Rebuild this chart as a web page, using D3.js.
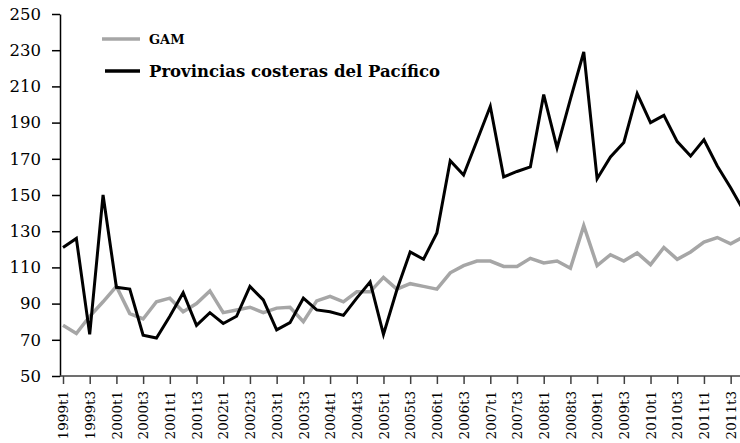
<!DOCTYPE html>
<html>
<head>
<meta charset="utf-8">
<script src="https://cdn.jsdelivr.net/npm/d3@7"></script>
<style>
  html, body { margin: 0; padding: 0; background: #fff; overflow: hidden; }
</style>
</head>
<body>
<div class="d3line"></div>
<script>
// quarters 1999t1 .. 2011t4
var years = d3.range(1999, 2012);
var quarters = [];
years.forEach(function(y) { [1, 2, 3, 4].forEach(function(q) { quarters.push(y + "t" + q); }); });

// only every second quarter gets a label
var tickLabels = quarters.filter(function(d, i) { return i % 2 === 0; });

var yTicks = [50, 70, 90, 110, 130, 150, 170, 190, 210, 230, 250];

var gam = [78, 73.5, 83, 91, 99.5, 84.5, 81.5, 91, 93, 85.5, 90, 97, 85, 86.5, 88, 85,
  87.5, 88, 80, 91.5, 94, 91, 96.5, 96.5, 104.5, 98, 101, 99.5, 98, 107, 111, 113.5,
  113.5, 110.5, 110.5, 115, 112.5, 113.5, 109.5, 133, 111, 117, 113.5, 118, 111.5, 121, 114.5, 118.5,
  124, 126.5, 123, 127];

var pacifico = [121, 126, 73, 150, 99, 98, 72.5, 71, 83, 96, 78, 85, 79, 83, 99.5, 92,
  75.5, 79.5, 93, 86.5, 85.5, 83.5, 93, 102, 73, 97.5, 118.5, 114.5, 129, 169, 161, 180,
  199, 160, 163, 165.5, 205.5, 176, 203, 229, 159, 171, 179, 206, 190, 194, 179.5, 171.5,
  180.5, 166, 154, 141];

var seriesNames = ["GAM", "Provincias costeras del Pacífico"];

var W = 740, H = 443;
var margin = {top: 14, right: 0, bottom: 67, left: 60};
var height = H - margin.top - margin.bottom;
var serif = "'DejaVu Serif', serif";

// x: point per quarter, last point just past the right edge
var xScale = d3.scalePoint()
    .domain(quarters)
    .range([63, 744]);

var yScale = d3.scaleLinear()
    .domain([50, 250])
    .range([margin.top + height, margin.top]);

var line = d3.line()
    .x(function(d, i) { return xScale(quarters[i]); })
    .y(function(d) { return yScale(d); });

var svg = d3.select(".d3line").append("svg")
    .attr("width", W)
    .attr("height", H);

// y axis
var yAxis = svg.append("g")
    .attr("transform", "translate(" + margin.left + ",0)")
    .call(d3.axisLeft(yScale).tickValues(yTicks).tickSize(8).tickSizeOuter(0).tickPadding(11));
yAxis.select(".domain").attr("stroke", "#000").attr("stroke-width", 1.5);
yAxis.selectAll(".tick line").attr("stroke", "#000").attr("stroke-width", 1.5);
yAxis.selectAll(".tick text")
    .style("font-family", serif)
    .style("font-size", "16.5px")
    .attr("fill", "#000");

// x axis
var xAxis = svg.append("g")
    .attr("transform", "translate(0," + yScale(50) + ")")
    .call(d3.axisBottom(xScale).tickValues(tickLabels).tickSize(8).tickSizeOuter(0));
xAxis.select(".domain").remove();
xAxis.append("line")
    .attr("x1", margin.left).attr("x2", W)
    .attr("stroke", "#404040").attr("stroke-width", 1.5);
xAxis.selectAll(".tick line").attr("stroke", "#404040").attr("stroke-width", 1.5);
xAxis.selectAll(".tick text")
    .style("font-family", serif)
    .style("font-size", "13.5px")
    .attr("fill", "#000")
    .attr("transform", "rotate(-90)")
    .attr("text-anchor", "end")
    .attr("x", -15)
    .attr("y", 0)
    .attr("dy", "0.35em");

// lines, gray below black
svg.append("path")
    .datum(gam)
    .attr("fill", "none")
    .attr("stroke", "#a6a6a6")
    .attr("stroke-width", 3.5)
    .attr("stroke-linejoin", "miter")
    .attr("d", line);

svg.append("path")
    .datum(pacifico)
    .attr("fill", "none")
    .attr("stroke", "#000")
    .attr("stroke-width", 3)
    .attr("stroke-linejoin", "miter")
    .attr("d", line);

// legend
var legend = svg.append("g");
var legendItems = [
  {name: seriesNames[0], color: "#a6a6a6", x1: 102, y: 39, size: 13},
  {name: seriesNames[1], color: "#000", x1: 105, y: 71, size: 16.5}
];
legendItems.forEach(function(d) {
  legend.append("line")
      .attr("x1", d.x1).attr("x2", 140)
      .attr("y1", d.y).attr("y2", d.y)
      .attr("stroke", d.color)
      .attr("stroke-width", 3.5);
  legend.append("text")
      .attr("x", 149)
      .attr("y", d.y)
      .attr("dy", "0.35em")
      .style("font-family", serif)
      .style("font-weight", "bold")
      .style("font-size", d.size + "px")
      .text(d.name);
});
</script>
</body>
</html>
